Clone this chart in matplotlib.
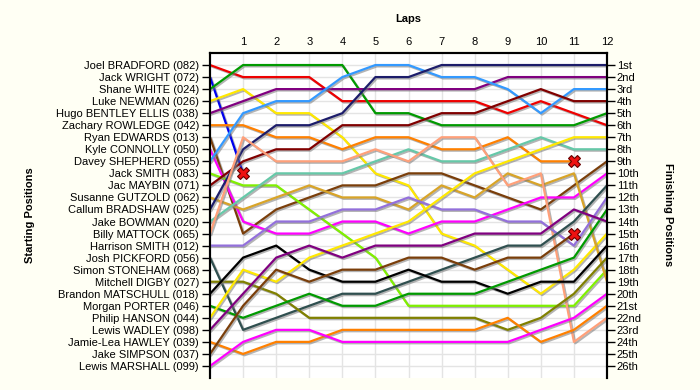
import matplotlib.pyplot as plt
import matplotlib.patheffects as pe

plt.rcParams['font.family'] = ['Liberation Sans', 'DejaVu Sans']

laps = list(range(13))

start_names = ["Joel BRADFORD (082)", "Jack WRIGHT (072)", "Shane WHITE (024)",
               "Luke NEWMAN (026)", "Hugo BENTLEY ELLIS (038)", "Zachary ROWLEDGE (042)",
               "Ryan EDWARDS (013)", "Kyle CONNOLLY (050)", "Davey SHEPHERD (055)",
               "Jack SMITH (083)", "Jac MAYBIN (071)", "Susanne GUTZOLD (062)",
               "Callum BRADSHAW (025)", "Jake BOWMAN (020)", "Billy MATTOCK (065)",
               "Harrison SMITH (012)", "Josh PICKFORD (056)", "Simon STONEHAM (068)",
               "Mitchell DIGBY (027)", "Brandon MATSCHULL (018)", "Morgan PORTER (046)",
               "Philip HANSON (044)", "Lewis WADLEY (098)", "Jamie-Lea HAWLEY (039)",
               "Jake SIMPSON (037)", "Lewis MARSHALL (099)"]

finish_labels = ["1st", "2nd", "3rd", "4th", "5th", "6th", "7th", "8th", "9th", "10th",
                 "11th", "12th", "13th", "14th", "15th", "16th", "17th", "18th", "19th",
                 "20th", "21st", "22nd", "23rd", "24th", "25th", "26th"]

# position at end of each lap (lap 0 = grid)
bradford = [1, 2, 2, 2, 4, 4, 4, 4, 4, 5, 4, 5, 6]
wright = [2, 10]
white = [3, 1, 1, 1, 1, 5, 5, 6, 6, 6, 6, 6, 5]
newman = [4, 3, 5, 5, 7, 10, 11, 15, 16, 18, 20, 18, 15]
bentley = [5, 4, 3, 3, 3, 3, 3, 3, 3, 2, 2, 2, 2]
rowledge = [6, 6, 7, 7, 8, 7, 7, 8, 8, 7, 9, 9]
edwards = [7, 15, 13, 12, 11, 11, 10, 10, 11, 12, 13, 11, 9]
connolly = [8, 14, 15, 15, 14, 14, 15, 14, 14, 13, 12, 12, 10]
shepherd = [9, 5, 4, 4, 2, 1, 1, 2, 2, 3, 5, 3, 3]
smith_j = [10, 11, 11, 13, 15, 17, 21, 21, 21, 21, 21, 21, 18]
maybin = [11, 9, 8, 8, 6, 6, 6, 5, 5, 4, 3, 4, 4]
gutzold = [12, 13, 12, 11, 12, 12, 13, 11, 12, 10, 11, 10, 19]
bradshaw = [13, 8, 6, 6, 5, 2, 2, 1, 1, 1, 1, 1, 1]
bowman = [14, 12, 10, 10, 10, 9, 8, 9, 9, 8, 7, 8, 8]
mattock = [15, 7, 9, 9, 9, 8, 9, 7, 7, 11, 10, 24, 22]
smith_h = [16, 16, 14, 14, 13, 13, 12, 13, 13, 14, 14, 16, 12]
pickford = [17, 23, 22, 21, 20, 20, 19, 18, 17, 16, 16, 14, 11]
digby = [19, 19, 20, 22, 22, 22, 22, 22, 22, 23, 22, 20, 17]
matschull = [20, 17, 16, 18, 19, 19, 18, 19, 19, 20, 19, 19, 16]
porter = [21, 22, 21, 20, 21, 21, 20, 20, 20, 19, 18, 17, 13]
hanson = [22, 18, 19, 17, 16, 15, 14, 12, 10, 9, 8, 7, 7]
wadley = [23, 20, 17, 16, 17, 16, 16, 16, 15, 15, 15, 13, 14]
hawley = [24, 25, 24, 24, 23, 23, 23, 23, 23, 22, 24, 23, 21]
simpson = [25, 21, 18, 19, 18, 18, 17, 17, 18, 17, 17, 15]
marshall = [26, 24, 23, 23, 24, 24, 24, 24, 24, 24, 23, 22, 20]

drivers = [
    (bradford, '#ee0000'), (wright, '#0000ee'), (white, '#009a00'),
    (newman, '#ffe800'), (bentley, '#800080'), (rowledge, '#ff8000'),
    (edwards, '#7a3e0a'), (connolly, '#ff00ff'), (shepherd, '#3399ff'),
    (smith_j, '#80f000'), (maybin, '#800000'), (gutzold, '#d8a428'),
    (bradshaw, '#1c1c6a'), (bowman, '#66c8a8'), (mattock, '#ffa07a'),
    (smith_h, '#9370db'), (pickford, '#2f4f4f'), (digby, '#808000'),
    (matschull, '#000000'), (porter, '#009a00'), (hanson, '#ffe800'),
    (wadley, '#800080'), (hawley, '#ff8000'), (simpson, '#7a3e0a'),
    (marshall, '#ff00ff'),
]
retired = [wright, rowledge, simpson]

fig = plt.figure(figsize=(7, 3.9), dpi=100, facecolor='#fffff4')
ax = fig.add_axes([210 / 700, 12 / 390, 397 / 700, 325 / 390])
ax.set_facecolor('white')

shadow = [pe.SimpleLineShadow(offset=(1.0, -1.0), shadow_color='#777777', alpha=0.55), pe.Normal()]
for pos, col in drivers:
    ax.plot(laps[:len(pos)], pos, color=col, lw=1.6, path_effects=shadow, zorder=3)

for pos in retired:
    ax.plot(laps[len(pos) - 1], pos[-1], marker='X', ms=8.5, color='#ee1111',
            mec='#660000', mew=0.8, zorder=5)

ax.set_xlim(0, 12)
ax.set_ylim(27, 0)
ax.set_xticks(laps[1:])
ax.xaxis.tick_top()
ax.tick_params(axis='x', length=0, labelsize=8, pad=4)

ax.set_yticks(range(1, 27))
ax.set_yticklabels(start_names, fontsize=8)
ax.tick_params(axis='y', length=6, width=1, direction='out', pad=2)

ax2 = ax.twinx()
ax2.set_ylim(27, 0)
ax2.set_yticks(range(1, 27))
ax2.set_yticklabels(finish_labels, fontsize=8)
ax2.tick_params(axis='y', length=6, width=1, direction='out', pad=1)

fig.text(408 / 700, 1 - 19 / 390, 'Laps', fontweight='bold', fontsize=8, ha='center', va='center')
fig.text(30 / 700, 1 - 215 / 390, 'Starting Positions', fontweight='bold', fontsize=8,
         rotation=90, ha='center', va='center')
fig.text(668 / 700, 1 - 215 / 390, 'Finishing Positions', fontweight='bold', fontsize=8,
         rotation=270, ha='center', va='center')

ax.grid(True, color='#e4e4e4', lw=1)
ax.set_axisbelow(True)
for a in (ax, ax2):
    a.spines['bottom'].set_visible(False)
    a.spines['left'].set_linewidth(1.5)
    a.spines['right'].set_linewidth(1.5)
    a.spines['top'].set_linewidth(1.5)

fig.savefig('out.png', dpi=100, facecolor=fig.get_facecolor())
